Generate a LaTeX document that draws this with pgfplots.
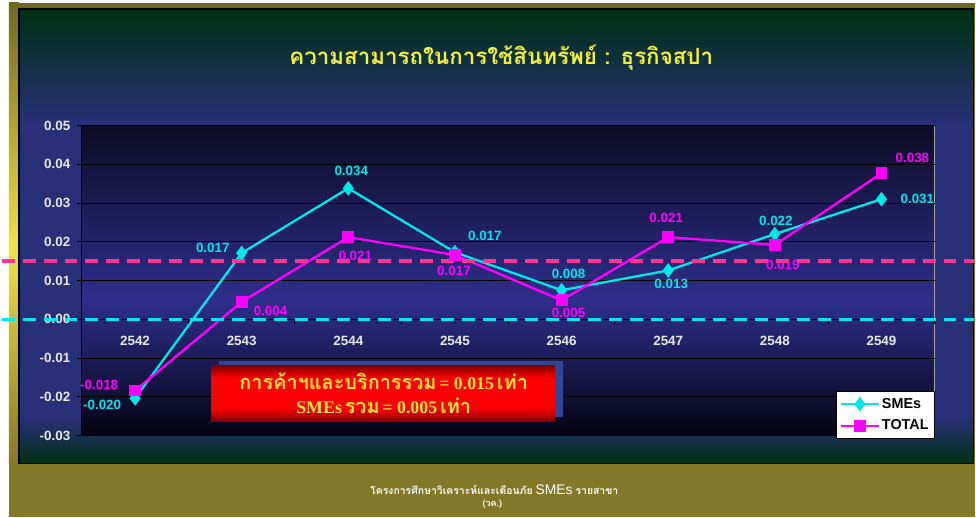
\documentclass[border=0pt]{standalone}
\usepackage{pgfplots}
\pgfplotsset{compat=1.18}
\usepackage{fontspec}
\setmainfont{Liberation Sans}
\newfontfamily\thai[Script=Thai]{Loma}
\newfontfamily\lserif{Liberation Serif}
\definecolor{goldD}{RGB}{112,104,32}
\definecolor{goldM}{RGB}{130,120,40}
\definecolor{goldL}{RGB}{240,226,70}
\definecolor{pgreen}{RGB}{0,48,18}
\definecolor{pblue}{RGB}{40,48,120}
\definecolor{plotTop}{RGB}{12,12,36}
\definecolor{plotMid}{RGB}{46,46,140}
\definecolor{plotBot}{RGB}{4,4,18}
\definecolor{cyanS}{RGB}{0,232,232}
\definecolor{magT}{RGB}{255,0,255}
\definecolor{pinkD}{RGB}{255,50,150}
\definecolor{cyanD}{RGB}{0,230,240}
\definecolor{titleY}{RGB}{240,240,60}
\definecolor{tickW}{RGB}{232,232,232}
\definecolor{boxY}{RGB}{245,228,50}
\definecolor{shadowB}{RGB}{50,70,150}
\definecolor{redD}{RGB}{130,0,0}
\definecolor{redL}{RGB}{255,0,0}
\begin{document}
\begin{tikzpicture}
\begin{scope}[x=1bp,y=1bp]
\useasboundingbox (0,0) rectangle (976,519);
\fill[white] (0,0) rectangle (976,519);
\fill[goldM] (7,0) rectangle (976,516);
\fill[goldD] (7,510) rectangle (976,516);
\shade[top color=goldD, bottom color=goldL] (7,270) rectangle (17,516);
\shade[top color=goldL, bottom color=goldM] (7,54) rectangle (17,270);
% panel
\fill[pblue] (17,54) rectangle (975,510);
\shade[top color=pgreen, bottom color=pblue] (17,395) rectangle (975,510);
\shade[top color=pblue, bottom color=pgreen] (17,54) rectangle (975,100);
\draw[black, line width=1.5] (17,54) rectangle (975,510);
% plot area background
\shade[top color=plotTop, bottom color=plotMid] (80,218) rectangle (936,393);
\shade[top color=plotMid, bottom color=plotBot] (80,82) rectangle (936,218);
\draw[gray!70, line width=1] (80,82) rectangle (936,393);
% title
\node[text=titleY, font=\thai\bfseries\fontsize{22.5}{26}\selectfont] at (501,461) {ความสามารถในการใช้สินทรัพย์ : ธุรกิจสปา};
% footer
\node[text=white, font=\fontsize{10.5}{11}\selectfont] at (494,28) {{\thai\bfseries โครงการศึกษาวิเคราะห์และเตือนภัย} {\fontsize{14}{14}\selectfont SMEs} {\thai\bfseries รายสาขา}};
\node[text=white, font=\thai\bfseries\fontsize{9}{10}\selectfont] at (492,13) {(วค.)};
\end{scope}
\begin{axis}[
  at={(80bp,82bp)}, anchor=south west,
  scale only axis, width=856bp, height=311bp,
  xmin=-0.5, xmax=7.5, ymin=-0.03, ymax=0.05,
  enlargelimits=false, clip=false,
  axis x line*=middle, axis y line*=left,
  axis line style={black, line width=1bp},
  xtick={0,...,7},
  xticklabels={2542,2543,2544,2545,2546,2547,2548,2549},
  minor xtick={-0.5,0.5,...,7.5},
  major tick length=5bp, minor tick length=5bp,
  xtick align=outside, ytick align=outside,
  x tick style={draw=none},
  minor x tick style={draw=black, line width=1bp},
  ytick={-0.03,-0.02,-0.01,0,0.01,0.02,0.03,0.04,0.05},
  y tick style={black, line width=1bp},
  scaled y ticks=false,
  ymajorgrids, grid style={black, line width=1bp},
  /pgf/number format/assume math mode=true,
  yticklabel style={/pgf/number format/fixed, /pgf/number format/fixed zerofill, /pgf/number format/precision=2, text=tickW, font=\bfseries\fontsize{13.5}{15}\selectfont, xshift=-3bp},
  xticklabel style={text=tickW, font=\bfseries\fontsize{13.5}{15}\selectfont, yshift=-8bp},
  legend image code/.code={\draw[mark repeat=2,mark phase=2] plot coordinates {(0bp,0bp) (19bp,0bp) (38bp,0bp)};},
  legend style={at={(1,-0.01)}, anchor=south east, fill=white, draw=black, font=\bfseries\fontsize{14.5}{17}\selectfont, text=black, inner xsep=4bp, inner ysep=5bp, row sep=6bp},
  legend cell align=left,
]
\addplot[cyanS, line width=2.3bp, mark=diamond*, mark size=5.5bp, mark options={fill=cyanS, draw=cyanS}]
  coordinates {(0,-0.0204) (1,0.0171) (2,0.0338) (3,0.0173) (4,0.0075) (5,0.0126) (6,0.0220) (7,0.0310)};
\addlegendentry{SMEs}
\addplot[magT, line width=2.3bp, mark=square*, mark size=4.8bp, mark options={fill=magT, draw=magT}]
  coordinates {(0,-0.0184) (1,0.0045) (2,0.0212) (3,0.0166) (4,0.0049) (5,0.0212) (6,0.0192) (7,0.0377)};
\addlegendentry{TOTAL}
% data labels
\begin{scope}[every node/.style={font=\bfseries\fontsize{13.5}{15}\selectfont}]
\node[text=cyanS, xshift=-33bp, yshift=-7bp] at (axis cs:0,-0.0204) {-0.020};
\node[text=cyanS, xshift=-29bp, yshift=5bp] at (axis cs:1,0.0171) {0.017};
\node[text=cyanS, xshift=3bp, yshift=17bp] at (axis cs:2,0.0338) {0.034};
\node[text=cyanS, xshift=30bp, yshift=16bp] at (axis cs:3,0.0173) {0.017};
\node[text=cyanS, xshift=7bp, yshift=16bp] at (axis cs:4,0.0075) {0.008};
\node[text=cyanS, xshift=3bp, yshift=-13bp] at (axis cs:5,0.0126) {0.013};
\node[text=cyanS, xshift=1bp, yshift=13bp] at (axis cs:6,0.0220) {0.022};
\node[text=cyanS, xshift=36bp, yshift=0bp] at (axis cs:7,0.0310) {0.031};
\node[text=magT, xshift=-36bp, yshift=6bp] at (axis cs:0,-0.0184) {-0.018};
\node[text=magT, xshift=29bp, yshift=-9bp] at (axis cs:1,0.0045) {0.004};
\node[text=magT, xshift=7bp, yshift=-19bp] at (axis cs:2,0.0212) {0.021};
\node[text=magT, xshift=-1bp, yshift=-16bp] at (axis cs:3,0.0166) {0.017};
\node[text=magT, xshift=7bp, yshift=-13bp] at (axis cs:4,0.0049) {0.005};
\node[text=magT, xshift=-2bp, yshift=19bp] at (axis cs:5,0.0212) {0.021};
\node[text=magT, xshift=8bp, yshift=-20bp] at (axis cs:6,0.0192) {0.019};
\node[text=magT, xshift=31bp, yshift=15bp] at (axis cs:7,0.0377) {0.038};
\end{scope}
% dashed reference lines
\draw[pinkD, line width=3.5bp, dash pattern=on 13bp off 8bp] (axis cs:-1.25,0.015) -- (axis cs:7.87,0.015);
\draw[cyanD, line width=3.5bp, dash pattern=on 13bp off 8bp] (axis cs:-1.25,0) -- (axis cs:7.87,0);
\end{axis}
\begin{scope}[x=1bp,y=1bp]
% summary box
\fill[shadowB] (218,101) rectangle (563,157);
\fill[redL] (210,96) rectangle (555,152);
\shade[top color=redD, bottom color=redL] (210,140) rectangle (555,152);
\shade[top color=redL, bottom color=redD] (210,96) rectangle (555,110);
\node[text=boxY] at (383,136) {{\thai\bfseries\fontsize{20}{22}\selectfont การค้าฯและบริการรวม} {\lserif\bfseries\fontsize{18}{22}\selectfont = 0.015} {\thai\bfseries\fontsize{20}{22}\selectfont เท่า}};
\node[text=boxY] at (383,112) {{\lserif\bfseries\fontsize{18}{22}\selectfont SMEs} {\thai\bfseries\fontsize{20}{22}\selectfont รวม} {\lserif\bfseries\fontsize{18}{22}\selectfont = 0.005} {\thai\bfseries\fontsize{20}{22}\selectfont เท่า}};
\end{scope}
\end{tikzpicture}
\end{document}
